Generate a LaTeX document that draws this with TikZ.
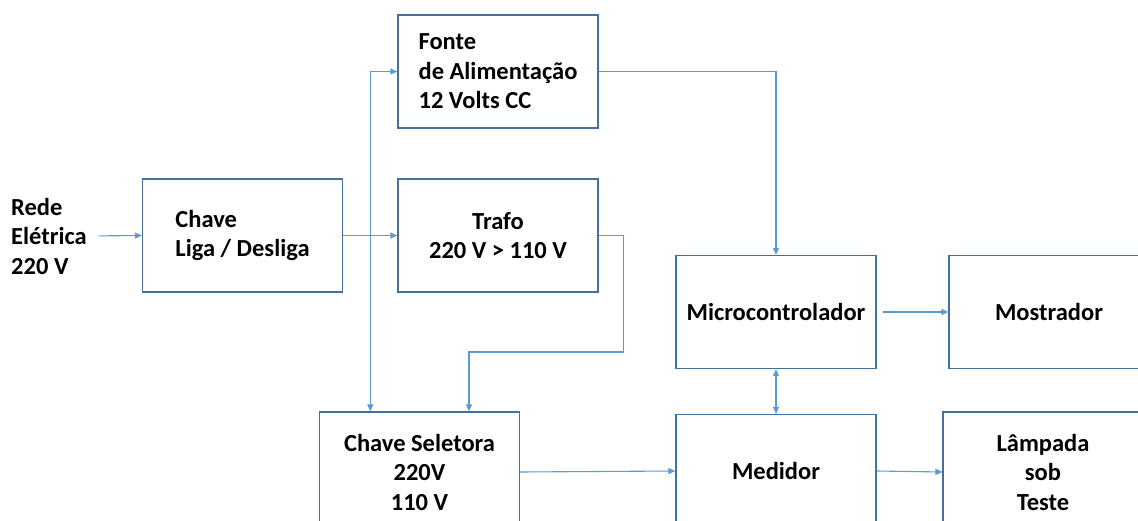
\documentclass[tikz,border=0pt]{standalone}
\usepackage{fontspec}
\setmainfont{Carlito}
\usetikzlibrary{positioning,arrows.meta,calc}
\definecolor{boxEdge}{HTML}{41719C}
\definecolor{lineBlue}{HTML}{5B9BD5}

\begin{document}
\begin{tikzpicture}[x=1pt,y=-1pt,
  every node/.style={font=\fontsize{24.5}{29.5}\selectfont\bfseries,inner sep=0pt},
  block/.style={draw=boxEdge,line width=1.2pt,minimum width=200pt,minimum height=113pt,align=center},
  lblock/.style={block,align=left},
  conn/.style={-{Triangle[length=7pt,width=6pt]},line width=1.1pt,color=lineBlue},
  biconn/.style={conn,{Triangle[length=7pt,width=6pt]}-{Triangle[length=7pt,width=6pt]}},
]
\useasboundingbox (0,0) rectangle (1138,521);
\clip (0,0) rectangle (1138,521);

% Input and main switch
\node[align=left,anchor=west] (rede) at (11,236) {Rede\\Elétrica\\220 V};
\node[lblock] (chave) at (242.5,235.5) {Chave\\Liga / Desliga};

% Power supply and transformer
\node[lblock] (fonte) at (498,71.5)  {Fonte\\de Alimentação\\12 Volts CC};
\node[block]  (trafo) at (498,235.5) {Trafo\\220 V > 110 V};

% Control and display
\node[block] (micro) at (776,312)  {Microcontrolador};
\node[block] (mostr) at (1049,312) {Mostrador};

% Bottom row
\node[block,minimum height=120pt] (selet)   at (419.5,472) {Chave Seletora\\220V\\110 V};
\node[block]                      (medidor) at (776,471)   {Medidor};
\node[block,minimum height=120pt] (lampada) at (1043,472)  {Lâmpada\\sob\\Teste};

% Connectors
\draw[conn,shorten <=12pt] (rede.east) -- (chave.west);
\draw[conn] (chave.east) -- (trafo.west);
\coordinate (split) at ($(chave.east)!0.5!(trafo.west)$);
\draw[conn] (split) |- (fonte.west);
\draw[conn] (split) -- (split |- selet.north);
\coordinate (bend) at (469,352);
\draw[conn] (trafo.east) -- ++(25,0) |- (bend) -- (bend |- selet.north);
\draw[conn] (fonte.east) -| (micro.north);
\draw[conn,shorten <=6pt] (micro.east) -- (mostr.west);
\draw[biconn] (micro) -- (medidor);
\draw[conn] (selet.east) -- (medidor.west);
\draw[conn] (medidor.east) -- (lampada.west);
\end{tikzpicture}
\end{document}
